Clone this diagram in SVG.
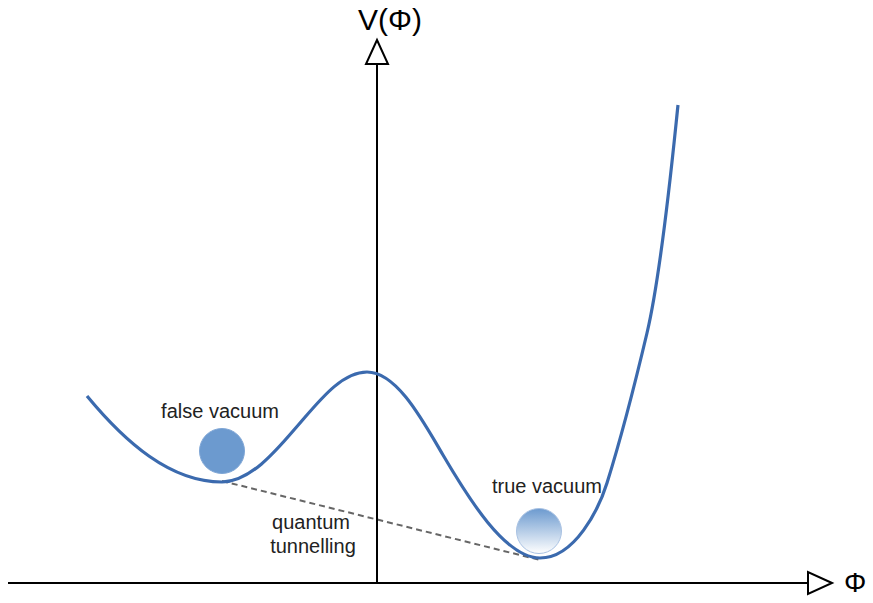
<svg xmlns="http://www.w3.org/2000/svg" width="873" height="603" viewBox="0 0 873 603">
<style>
.axis{stroke:#000;stroke-width:2;fill:none}
.head{stroke:#000;stroke-width:2;fill:#fff;stroke-linejoin:miter}
.curve{stroke:#3b6aae;stroke-width:3.2;fill:none;stroke-linecap:butt}
.dash{stroke:#666;stroke-width:2;stroke-dasharray:6 4;fill:none}
.lbl{font-family:"Liberation Sans",Arial,sans-serif;font-size:20px;fill:#222}
.big{font-family:"Liberation Sans",Arial,sans-serif;font-size:30px;fill:#000}
</style>
<defs>
<linearGradient id="tv" x1="0" y1="0" x2="0" y2="1">
<stop offset="0" stop-color="#6c9acf"/>
<stop offset="1" stop-color="#ffffff"/>
</linearGradient>
</defs>
<rect width="873" height="603" fill="#fff"/>
<g id="connectors">
<line class="dash" x1="222" y1="481" x2="540" y2="560"/>
</g>
<g id="axes">
<line class="axis" x1="377" y1="584" x2="377" y2="64"/>
<polygon class="head" points="377,40 366,64 388,64"/>
<line class="axis" x1="8" y1="583" x2="808" y2="583"/>
<polygon class="head" points="832,583 808,572 808,594"/>
<text class="big" x="358" y="30">V(Φ)</text>
<text class="big" x="844" y="592" style="font-size:28px">Φ</text>
</g>
<g id="potential">
<path class="curve" d="M87,396 C125,442 170,482 222,482 C252,482 280,446 300,423 C320,400 342,372 367,372 C397,372 423,421 443,455 C468,497.5 505,558 540,558 C575,558 599,508.6 607,483 C620,441.4 634,388 647,333 C662,269.4 673,152.5 678,105"/>
</g>
<g id="false-vacuum">
<circle cx="222" cy="451" r="22.5" fill="#6c9acf" stroke="#7fa6d6" stroke-width="1"/>
<text class="lbl" x="220" y="418" text-anchor="middle">false vacuum</text>
</g>
<g id="true-vacuum">
<circle cx="539" cy="531" r="22.5" fill="url(#tv)" stroke="#a9c2e3" stroke-width="1"/>
<text class="lbl" x="547" y="493" text-anchor="middle">true vacuum</text>
</g>
<g id="tunnelling-label">
<text class="lbl" x="311" y="529" text-anchor="middle">quantum</text>
<text class="lbl" x="313" y="553" text-anchor="middle">tunnelling</text>
</g>
</svg>
